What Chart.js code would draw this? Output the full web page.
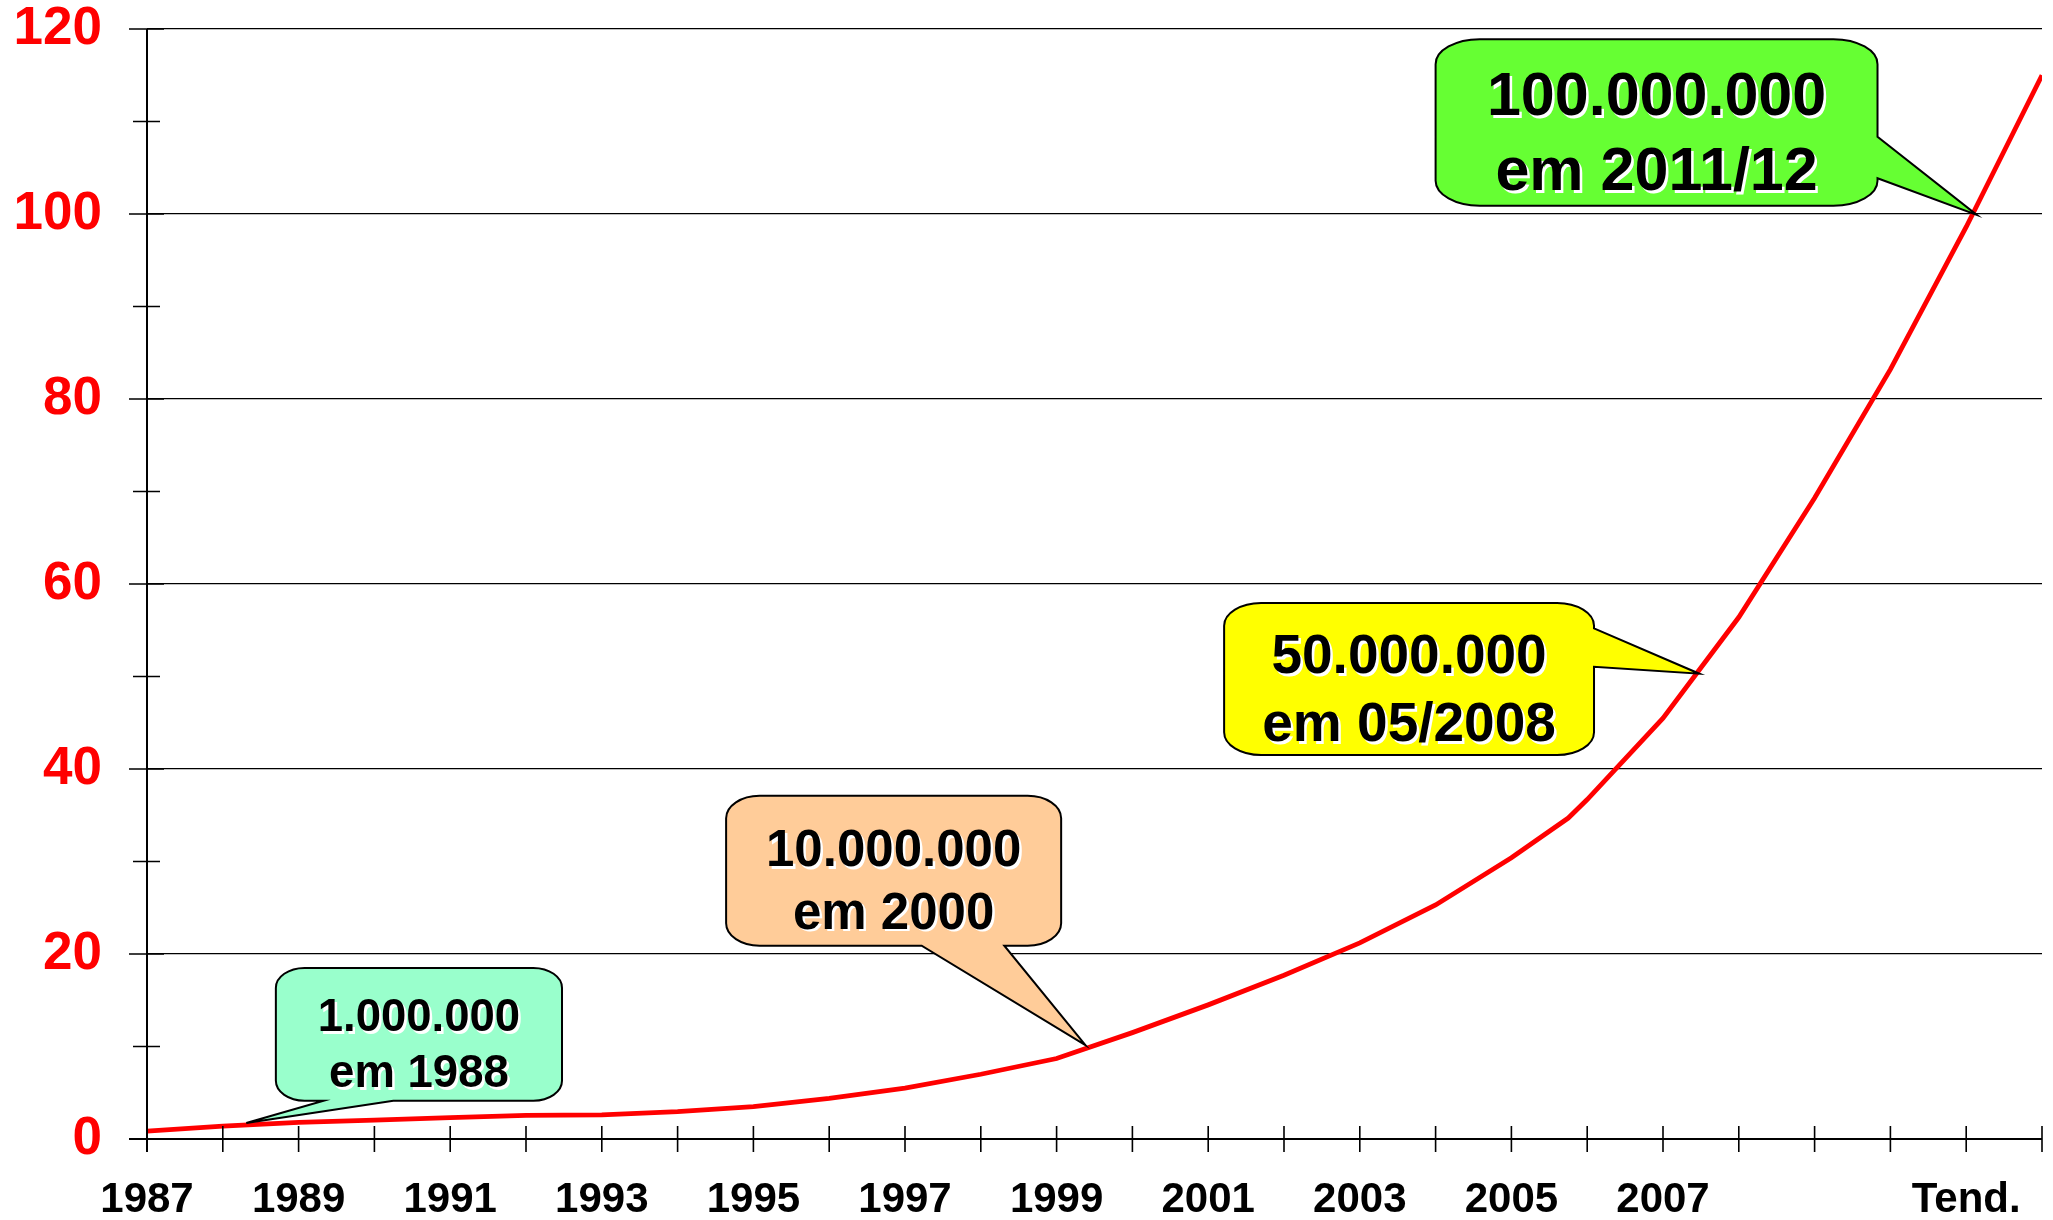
<!DOCTYPE html>
<html>
<head>
<meta charset="utf-8">
<script src="https://cdn.jsdelivr.net/npm/chart.js@4/dist/chart.umd.min.js"></script>
<style>
    html, body { margin: 0; padding: 0; background: #fff; }
    #wrap { width: 2053px; height: 1220px; position: relative; }
</style>
</head>
<body>
<div id="wrap"><canvas id="chart"></canvas></div>
<script>
// x axis labels, one per tick (1987 ... 2012), only every other one is printed
const tickLabels = ['1987', '', '1989', '', '1991', '', '1993', '', '1995', '', '1997', '', '1999', '',
    '2001', '', '2003', '', '2005', '', '2007', '', '', '', 'Tend.', ''];

// position on the year axis (0 = 1987) and users in millions
const yearIndex = [0, 1, 2, 3, 4, 5, 6, 7, 8, 9, 10, 11, 12, 13, 14, 15, 16, 17, 18, 18.75, 19, 20, 21, 22, 23, 24, 25];
const usersMillions = [0.85, 1.4, 1.8, 2.05, 2.3, 2.55, 2.6, 2.95, 3.5, 4.4, 5.5, 7.0, 8.7, 11.5, 14.5, 17.7,
    21.2, 25.3, 30.4, 34.7, 36.7, 45.5, 56.4, 69.3, 83.2, 98.6, 115];

const yTicks = [0, 20, 40, 60, 80, 100, 120];

// callouts, placed in axis units (x = year index, y = millions)
const callouts = [
    { lines: ['1.000.000', 'em 1988'], fill: '#99FFCC', size: 45.5,
      box: [1.70, 5.475, 18.49, 4.14], side: 'bottom', base: [2.33, 3.25], tip: [1.31, 1.73] },
    { lines: ['10.000.000', 'em 2000'], fill: '#FFCC99', size: 51,
      box: [7.64, 12.06, 37.11, 20.9], side: 'bottom', base: [10.22, 11.31], tip: [12.38, 10.16] },
    { lines: ['50.000.000', 'em 05/2008'], fill: '#FFFF00', size: 55,
      box: [14.21, 19.09, 57.95, 41.51], side: 'right', base: [55.21, 51.06], tip: [20.48, 50.3] },
    { lines: ['100.000.000', 'em 2011/12'], fill: '#66FF33', size: 61,
      box: [17.0, 22.83, 118.9, 100.9], side: 'right', base: [108.36, 103.86], tip: [24.14, 99.9] }
];

const FONT = '"Liberation Sans", Arial, sans-serif';

function drawCallout(ctx, xs, ys, c) {
    const L = xs.getPixelForValue(c.box[0]);
    const R = xs.getPixelForValue(c.box[1]);
    const T = ys.getPixelForValue(c.box[2]);
    const B = ys.getPixelForValue(c.box[3]);
    const rx = (R - L) * 0.1;
    const ry = (B - T) * 0.15;
    const tx = xs.getPixelForValue(c.tip[0]);
    const ty = ys.getPixelForValue(c.tip[1]);

    ctx.beginPath();
    ctx.moveTo(L + rx, T);
    ctx.lineTo(R - rx, T);
    ctx.ellipse(R - rx, T + ry, rx, ry, 0, -Math.PI / 2, 0);
    if (c.side === 'right') {
        ctx.lineTo(R, ys.getPixelForValue(c.base[0]));
        ctx.lineTo(tx, ty);
        ctx.lineTo(R, ys.getPixelForValue(c.base[1]));
    }
    ctx.lineTo(R, B - ry);
    ctx.ellipse(R - rx, B - ry, rx, ry, 0, 0, Math.PI / 2);
    if (c.side === 'bottom') {
        ctx.lineTo(xs.getPixelForValue(c.base[1]), B);
        ctx.lineTo(tx, ty);
        ctx.lineTo(xs.getPixelForValue(c.base[0]), B);
    }
    ctx.lineTo(L + rx, B);
    ctx.ellipse(L + rx, B - ry, rx, ry, 0, Math.PI / 2, Math.PI);
    ctx.lineTo(L, T + ry);
    ctx.ellipse(L + rx, T + ry, rx, ry, 0, Math.PI, Math.PI * 1.5);
    ctx.closePath();
    ctx.fillStyle = c.fill;
    ctx.fill();
    ctx.lineWidth = 2;
    ctx.strokeStyle = '#000';
    ctx.stroke();

    // two centred lines of bold text with a white drop shadow
    const cx = (L + R) / 2;
    const cy = (T + B) / 2 + 8.5;
    const gap = c.size * 1.23;
    ctx.font = `bold ${c.size}px ${FONT}`;
    ctx.textAlign = 'center';
    ctx.textBaseline = 'alphabetic';
    c.lines.forEach((line, i) => {
        const y = cy - gap / 2 + c.size * 0.358 + i * gap;
        ctx.fillStyle = '#fff';
        ctx.fillText(line, cx + 2.5, y + 2.5);
        ctx.fillStyle = '#000';
        ctx.fillText(line, cx, y);
    });
}

const axesAndCallouts = {
    id: 'axesAndCallouts',
    afterDraw(chart) {
        const ctx = chart.ctx;
        const xs = chart.scales.x;
        const ys = chart.scales.y;
        const x0 = xs.getPixelForValue(0);
        const y0 = ys.getPixelForValue(0);
        ctx.save();
        ctx.strokeStyle = '#000';

        // axis lines
        ctx.lineWidth = 2;
        ctx.beginPath();
        ctx.moveTo(x0, ys.getPixelForValue(120));
        ctx.lineTo(x0, y0 + 13);
        ctx.moveTo(x0 - 18, y0);
        ctx.lineTo(xs.getPixelForValue(25), y0);
        ctx.stroke();

        // tick marks crossing the axes
        ctx.lineWidth = 1.6;
        ctx.beginPath();
        for (let i = 0; i < tickLabels.length; i++) {
            const px = xs.getPixelForValue(i);
            ctx.moveTo(px, y0 - 13);
            ctx.lineTo(px, y0 + 13);
        }
        for (let v = 0; v <= 120; v += 10) {
            const py = ys.getPixelForValue(v);
            const major = v % 20 === 0;
            ctx.moveTo(x0 - (major ? 18 : 14), py);
            ctx.lineTo(x0 + (major ? 17 : 13), py);
        }
        ctx.stroke();

        callouts.forEach(c => drawCallout(ctx, xs, ys, c));
        ctx.restore();
    }
};

new Chart(document.getElementById('chart'), {
    type: 'line',
    data: {
        datasets: [{
            data: yearIndex.map((x, i) => ({ x: x, y: usersMillions[i] })),
            borderColor: '#FF0000',
            borderWidth: 4.8,
            pointRadius: 0,
            tension: 0,
            fill: false
        }]
    },
    options: {
        responsive: true,
        maintainAspectRatio: false,
        animation: false,
        devicePixelRatio: 1,
        layout: { padding: { top: 29, right: 11, left: 0, bottom: 0 } },
        plugins: {
            legend: { display: false },
            tooltip: { enabled: false }
        },
        scales: {
            x: {
                type: 'linear',
                min: 0,
                max: 25,
                grid: { display: false, drawTicks: false },
                border: { display: false },
                afterFit: (s) => {
                    s.height = 81;
                    s.paddingLeft = 0;
                    s.paddingRight = 0;
                },
                ticks: {
                    stepSize: 1,
                    autoSkip: false,
                    maxRotation: 0,
                    padding: 36,
                    color: '#000',
                    font: { family: FONT, size: 42, weight: 'bold' },
                    callback: (v) => tickLabels[v] ?? ''
                }
            },
            y: {
                min: 0,
                max: 120,
                afterFit: (s) => {
                    s.width = 147;
                    s.paddingTop = 0;
                    s.paddingBottom = 0;
                },
                afterBuildTicks: (s) => { s.ticks = yTicks.map(v => ({ value: v })); },
                grid: { color: '#000', lineWidth: 1.3, drawTicks: false },
                border: { display: false },
                ticks: {
                    padding: 45,
                    color: '#FF0000',
                    font: { family: FONT, size: 53, weight: 'bold' }
                }
            }
        }
    },
    plugins: [axesAndCallouts]
});
</script>
</body>
</html>
